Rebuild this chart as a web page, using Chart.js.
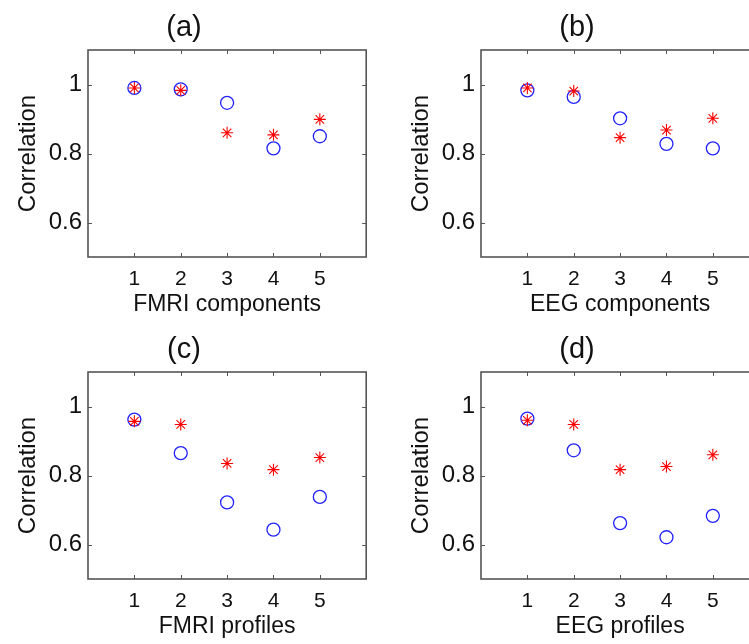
<!DOCTYPE html>
<html>
<head>
<meta charset="utf-8">
<script src="https://cdn.jsdelivr.net/npm/chart.js@4"></script>
<style>
  html, body { margin: 0; padding: 0; background: #fff; }
  body { width: 749px; height: 644px; overflow: hidden; position: relative; }
  canvas { position: absolute; }
</style>
</head>
<body>
<canvas id="chartA" width="374" height="322" style="left:0;top:0"></canvas>
<canvas id="chartB" width="374" height="322" style="left:393px;top:0"></canvas>
<canvas id="chartC" width="374" height="322" style="left:0;top:322px"></canvas>
<canvas id="chartD" width="374" height="322" style="left:393px;top:322px"></canvas>
<script>
// data
const xCats = [1, 2, 3, 4, 5];
const yTicks = [0.6, 0.8, 1];

const fmriCompCircle = [0.990, 0.986, 0.947, 0.815, 0.850];
const fmriCompStar = [0.990, 0.983, 0.860, 0.854, 0.899];
const eegCompCircle = [0.983, 0.964, 0.902, 0.828, 0.815];
const eegCompStar = [0.990, 0.981, 0.846, 0.868, 0.902];
const fmriProfCircle = [0.962, 0.865, 0.722, 0.643, 0.738];
const fmriProfStar = [0.957, 0.948, 0.835, 0.817, 0.852];
const eegProfCircle = [0.965, 0.873, 0.662, 0.621, 0.683];
const eegProfStar = [0.960, 0.948, 0.817, 0.826, 0.860];

const FONT = "'Liberation Sans', Arial, sans-serif";
Chart.defaults.font.family = FONT;
Chart.defaults.color = "#111";

// matlab style box with inward ticks
const boxPlugin = {
  id: "box",
  beforeDatasetsDraw(chart) {
    const { ctx, chartArea: a, scales } = chart;
    const tl = 4;
    ctx.save();
    ctx.strokeStyle = "#555";
    ctx.lineWidth = 1;
    ctx.beginPath();
    scales.x.ticks.forEach((t) => {
      const px = Math.round(scales.x.getPixelForValue(t.value)) + 0.5;
      ctx.moveTo(px, a.bottom);
      ctx.lineTo(px, a.bottom - tl);
      ctx.moveTo(px, a.top);
      ctx.lineTo(px, a.top + tl);
    });
    scales.y.ticks.forEach((t) => {
      const py = Math.round(scales.y.getPixelForValue(t.value)) + 0.5;
      ctx.moveTo(a.left, py);
      ctx.lineTo(a.left + tl, py);
      ctx.moveTo(a.right, py);
      ctx.lineTo(a.right - tl, py);
    });
    ctx.stroke();
    ctx.lineWidth = 1.6;
    ctx.strokeRect(a.left, a.top, a.width, a.height);
    ctx.restore();
  },
};

function makeChart(id, title, xLabel, circles, stars) {
  new Chart(document.getElementById(id), {
    type: "scatter",
    data: {
      datasets: [
        {
          label: "star",
          data: xCats.map((x, i) => ({ x: x, y: stars[i] })),
          pointStyle: "star",
          pointRadius: 6,
          borderColor: "#ff0000",
          backgroundColor: "#ff0000",
          borderWidth: 1.1,
        },
        {
          label: "circle",
          data: xCats.map((x, i) => ({ x: x, y: circles[i] })),
          pointStyle: "circle",
          pointRadius: 6.5,
          borderColor: "#2222ff",
          backgroundColor: "rgba(0,0,0,0)",
          borderWidth: 1.3,
        },
      ],
    },
    options: {
      responsive: false,
      animation: false,
      events: [],
      layout: { padding: { left: 0, right: 6, top: 0, bottom: 0 } },
      plugins: {
        legend: { display: false },
        tooltip: { enabled: false },
        title: {
          display: true,
          text: title,
          color: "#111",
          font: { size: 29, weight: "normal", lineHeight: 1.2 },
          padding: { top: 11, bottom: 4.2 },
        },
      },
      scales: {
        x: {
          type: "linear",
          min: 0,
          max: 6,
          afterBuildTicks: (s) => { s.ticks = xCats.map((v) => ({ value: v })); },
          afterFit: (s) => { s.height = 65; },
          grid: { display: false, drawTicks: false },
          border: { display: false },
          ticks: { padding: 10, font: { size: 21 }, color: "#111" },
          title: {
            display: true,
            text: xLabel,
            font: { size: 23, lineHeight: 1.2 },
            padding: { top: 0, bottom: 4 },
            color: "#111",
          },
        },
        y: {
          type: "linear",
          min: 0.5,
          max: 1.1,
          afterBuildTicks: (s) => { s.ticks = yTicks.map((v) => ({ value: v })); },
          afterFit: (s) => { s.width = 88; },
          grid: { display: false, drawTicks: false },
          border: { display: false },
          ticks: {
            padding: 6,
            font: { size: 24 },
            color: "#111",
            callback: (v) => String(Math.round(v * 10) / 10),
          },
          title: {
            display: true,
            text: "Correlation",
            font: { size: 24, lineHeight: 1.2 },
            padding: { top: 14, bottom: 0 },
            color: "#111",
          },
        },
      },
    },
    plugins: [boxPlugin],
  });
}

makeChart("chartA", "(a)", "FMRI components", fmriCompCircle, fmriCompStar);
makeChart("chartB", "(b)", "EEG components", eegCompCircle, eegCompStar);
makeChart("chartC", "(c)", "FMRI profiles", fmriProfCircle, fmriProfStar);
makeChart("chartD", "(d)", "EEG profiles", eegProfCircle, eegProfStar);
</script>
</body>
</html>
